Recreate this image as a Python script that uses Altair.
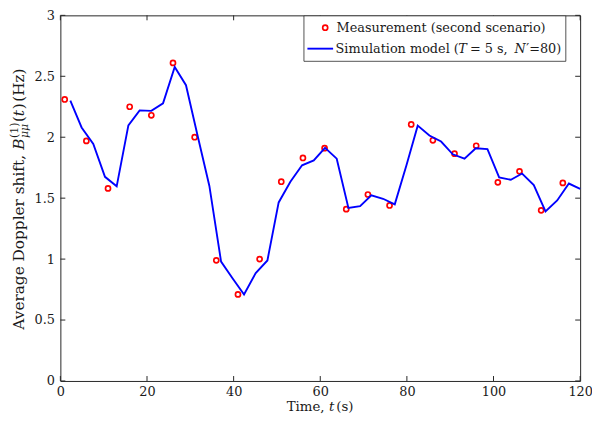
import altair as alt
import pandas as pd

# ---- data ----
meas_t = [1, 6, 11, 16, 21, 26, 31, 36, 41, 46, 51, 56, 61, 66, 71, 76, 81, 86, 91, 96, 101, 106, 111, 116]
meas_y = [2.31, 1.97, 1.58, 2.25, 2.18, 2.61, 2.00, 0.99, 0.71, 1.00, 1.635, 1.83, 1.91, 1.41,
          1.53, 1.44, 2.105, 1.975, 1.865, 1.93, 1.63, 1.72, 1.40, 1.625]

sim_t = [2.3, 4.9, 7.6, 10.3, 13.0, 15.7, 18.3, 21.0, 23.7, 26.4, 29.0, 31.7, 34.4, 37.1, 39.7,
         42.4, 45.1, 47.8, 50.4, 53.1, 55.8, 58.5, 61.1, 63.8, 66.5, 69.2, 71.8, 74.5, 77.2, 79.9,
         82.5, 85.2, 87.9, 90.6, 93.3, 95.9, 98.6, 101.3, 104.0, 106.6, 109.3, 112.0, 114.7, 117.4, 120.0]
sim_y = [2.30, 2.08, 1.945, 1.675, 1.597, 2.097, 2.22, 2.216, 2.278, 2.576, 2.427, 2.01, 1.60, 0.98,
         0.845, 0.71, 0.886, 0.989, 1.465, 1.635, 1.77, 1.81, 1.913, 1.824, 1.42, 1.435, 1.524, 1.495,
         1.449, 1.77, 2.095, 2.014, 1.965, 1.86, 1.824, 1.91, 1.903, 1.67, 1.651, 1.702, 1.608, 1.392,
         1.481, 1.62, 1.576]

x_ticks = [0, 20, 40, 60, 80, 100, 120]
y_ticks = [0, 0.5, 1, 1.5, 2, 2.5, 3]

legend_labels = ["Measurement (second scenario)", "Simulation model ("]

# ---- styling ----
W, H = 526, 370
AX = "#262626"
TXT = "#1a1a1a"
FONT = "DejaVu Serif"

xs = alt.Scale(domain=[0, 120], nice=False, zero=False)
ys = alt.Scale(domain=[0, 3], nice=False, zero=False)

xaxis = alt.Axis(values=x_ticks, ticks=False, domain=False, grid=False, labelFont=FONT,
                 labelFontSize=13, labelColor=TXT, labelPadding=5, title=None, labelFlush=False)
yaxis = alt.Axis(values=y_ticks, ticks=False, domain=False, grid=False, labelFont=FONT,
                 labelFontSize=13, labelColor=TXT, labelPadding=6, title=None,
                 labelExpr="'' + datum.value")

meas = pd.DataFrame({"t": meas_t, "v": meas_y})
sim = pd.DataFrame({"t": sim_t, "v": sim_y})
xt = pd.DataFrame({"t": x_ticks})
yt = pd.DataFrame({"v": y_ticks})
one = pd.DataFrame({"k": [0]})

X = alt.X("t:Q", scale=xs, axis=xaxis)
Y = alt.Y("v:Q", scale=ys, axis=yaxis)

pts = alt.Chart(meas).mark_point(shape="circle", filled=False, color="#ff0000", size=26,
                                 strokeWidth=1.7, opacity=1).encode(x=X, y=Y)
line = alt.Chart(sim).mark_line(color="#0000ff", strokeWidth=1.9).encode(x=X, y=Y)

tb = alt.Chart(xt).mark_rule(color=AX, strokeWidth=1).encode(x=X, y=alt.value(H), y2=alt.value(H - 5))
tt = alt.Chart(xt).mark_rule(color=AX, strokeWidth=1).encode(x=X, y=alt.value(0), y2=alt.value(5))
tl = alt.Chart(yt).mark_rule(color=AX, strokeWidth=1).encode(y=Y, x=alt.value(0), x2=alt.value(5))
tr = alt.Chart(yt).mark_rule(color=AX, strokeWidth=1).encode(y=Y, x=alt.value(W - 5), x2=alt.value(W))


def txt(s, x, y, size=13, style="normal", angle=0):
    kw = dict(text=s, font=FONT, fontSize=size, fontStyle=style, align="left",
              baseline="alphabetic", color=TXT)
    if angle:
        kw["angle"] = angle
    return alt.Chart(one).mark_text(**kw).encode(x=alt.value(x), y=alt.value(y))


# legend
box = alt.Chart(one).mark_rect(fill="white", stroke=AX, strokeWidth=0.8).encode(
    x=alt.value(246.5), x2=alt.value(511.5), y=alt.value(0.5), y2=alt.value(46.5))
leg_pt = alt.Chart(one).mark_point(shape="circle", filled=False, color="#ff0000", size=26,
                                   strokeWidth=1.7, opacity=1).encode(x=alt.value(268), y=alt.value(12.5))
leg_ln = alt.Chart(one).mark_rule(color="#0000ff", strokeWidth=1.9).encode(
    x=alt.value(250), x2=alt.value(276), y=alt.value(33.7))
L1 = txt(legend_labels[0], 279.5, 16.5)
lx = 278.5
L2 = [txt(legend_labels[1], lx, 38.5),
      txt("T", lx + 124.2, 38.5, style="italic"),
      txt(" = 5 s, ", lx + 136.0, 38.5),
      txt("N", lx + 181.0, 38.5, style="italic"),
      txt("\u2032=80)", lx + 193.0, 38.5)]

# x title
XT = [txt("Time, ", 229.0, 400, size=13.5),
      txt("t", 271.8, 400, size=13.5, style="italic"),
      txt(" (s)", 279.2, 400, size=13.5)]

# y title (rotated)
bx = -37
YT = [txt("Average Doppler shift, ", bx, 318.1, size=15.5, angle=270),
      txt("B", bx, 136.0, size=15.5, style="italic", angle=270),
      txt("(1)", bx - 6, 124.1, size=11, angle=270),
      txt("\u03bc\u03bc", bx + 4, 124.1, size=11, style="italic", angle=270),
      txt("(", bx, 108.0, size=15.5, angle=270),
      txt("t", bx, 102.0, size=15.5, style="italic", angle=270),
      txt(")", bx, 95.0, size=15.5, angle=270),
      txt(" (Hz)", bx, 87.5, size=15.5, angle=270)]

chart = alt.layer(pts, line, tb, tt, tl, tr, box, leg_pt, leg_ln, L1, *L2, *XT, *YT).properties(
    width=W, height=H,
    autosize=alt.AutoSizeParams(type="none"),
    padding={"left": 53, "top": 5, "right": 12, "bottom": 33},
).configure_view(stroke=AX, strokeWidth=1)

chart.save("out.html", embed_options={"renderer": "svg", "actions": False})
